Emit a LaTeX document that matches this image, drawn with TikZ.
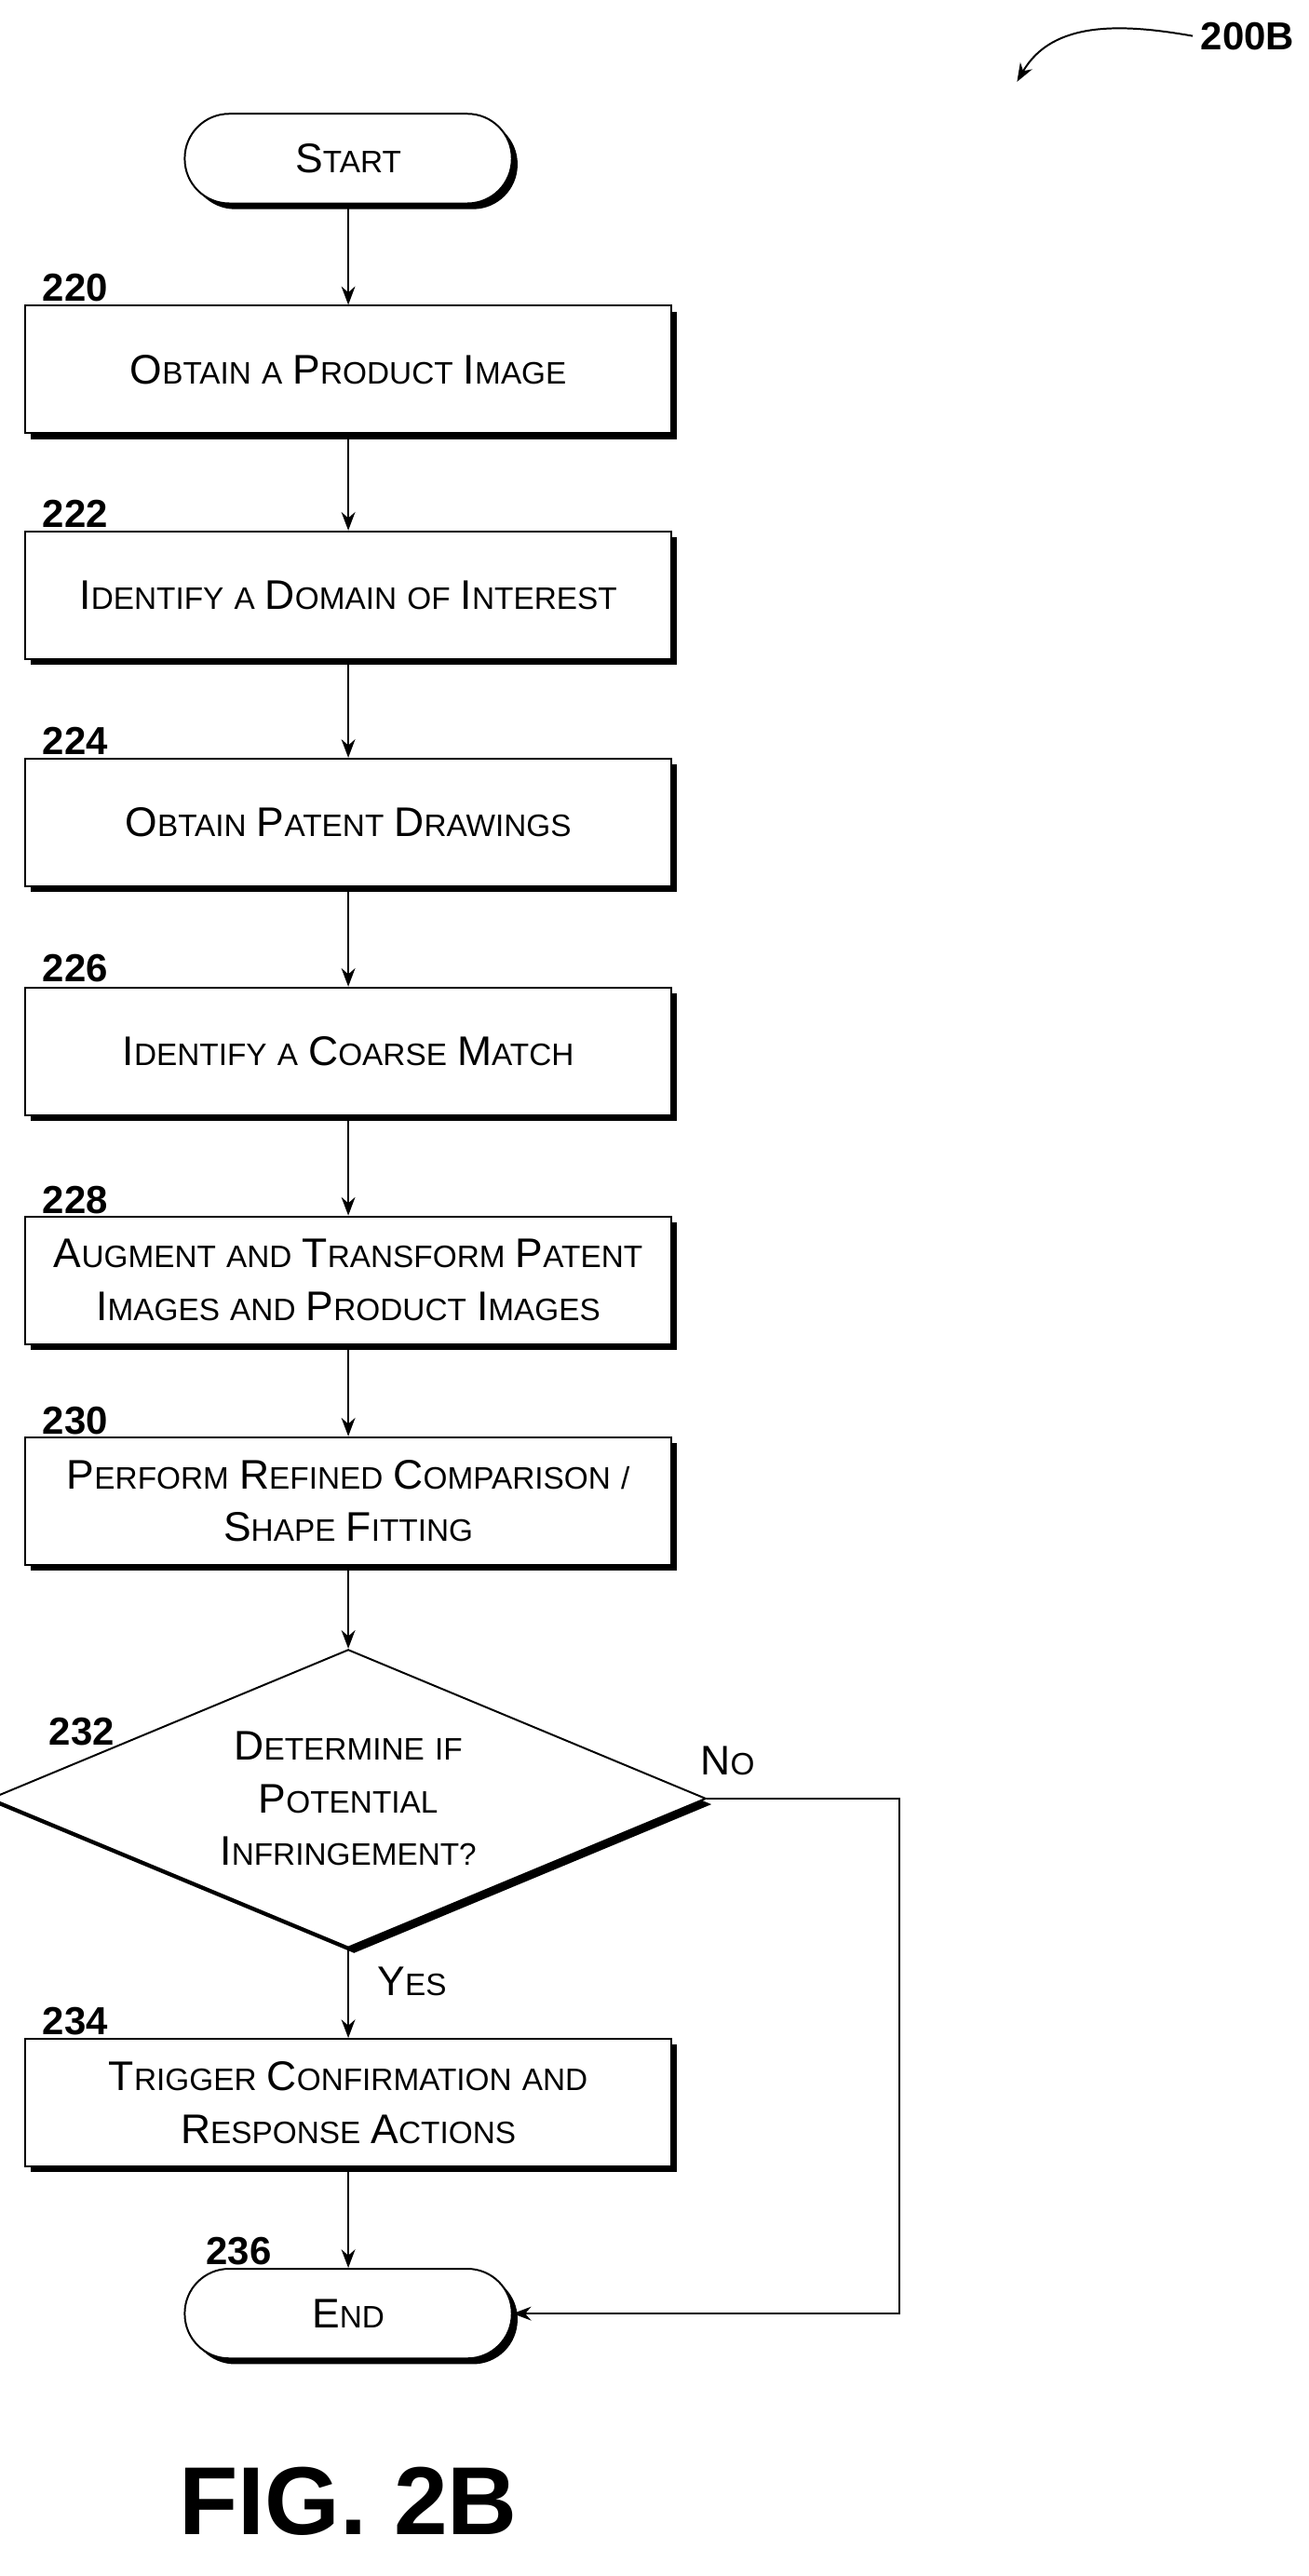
\documentclass[tikz,border=0pt]{standalone}
\usepackage{fontspec}
\setmainfont{Liberation Sans}
\usetikzlibrary{arrows.meta}
\usetikzlibrary{shadows}
\usetikzlibrary{shapes.geometric}
\newcommand{\Cp}[1]{{\fontsize{18}{21}\selectfont #1}}
\tikzset{
  stepbox/.style={draw,thick,rectangle,minimum width=9.875cm,minimum height=1.95cm,text width=9.5cm,inner xsep=0pt,align=center,fill=white,font=\fontsize{13.5}{23}\selectfont,drop shadow={shadow xshift=2.5pt,shadow yshift=-2.5pt,fill=black,opacity=1}},
  term/.style={draw,thick,rectangle,rounded corners=0.68cm,minimum width=5cm,minimum height=1.37cm,fill=white,font=\fontsize{13.5}{19}\selectfont,drop shadow={shadow xshift=2.5pt,shadow yshift=-2.5pt,fill=black,opacity=1}},
  decide/.style={draw,thick,diamond,aspect=2.4,minimum width=10.1cm,minimum height=4.2cm,text width=6cm,inner sep=0pt,align=center,fill=white,font=\fontsize{13.5}{23}\selectfont,drop shadow={shadow xshift=2.5pt,shadow yshift=-2.5pt,fill=black,opacity=1}},
  num/.style={font=\bfseries\fontsize{17}{20}\selectfont},
  flow/.style={->,thick,>={Stealth[length=8pt,width=6pt]}}
}
\begin{document}
\begin{tikzpicture}[x=0.025cm,y=-0.025cm]
\useasboundingbox (0,0) rectangle (800,1575.5);

\node[term] (start) at (213,97) {\Cp{S}TART};
\node[stepbox] (s220) at (213,226) {\Cp{O}BTAIN A \Cp{P}RODUCT \Cp{I}MAGE};
\node[stepbox] (s222) at (213,364) {\Cp{I}DENTIFY A \Cp{D}OMAIN OF \Cp{I}NTEREST};
\node[stepbox] (s224) at (213,503) {\Cp{O}BTAIN \Cp{P}ATENT \Cp{D}RAWINGS};
\node[stepbox] (s226) at (213,643) {\Cp{I}DENTIFY A \Cp{C}OARSE \Cp{M}ATCH};
\node[stepbox] (s228) at (213,783) {\Cp{A}UGMENT AND \Cp{T}RANSFORM \Cp{P}ATENT\\\Cp{I}MAGES AND \Cp{P}RODUCT \Cp{I}MAGES};
\node[stepbox] (s230) at (213,918) {\Cp{P}ERFORM \Cp{R}EFINED \Cp{C}OMPARISON /\\\Cp{S}HAPE \Cp{F}ITTING};
\node[decide] (s232) at (213,1100) {\Cp{D}ETERMINE IF\\\Cp{P}OTENTIAL \Cp{I}NFRINGEMENT?};
\node[stepbox] (s234) at (213,1286) {\Cp{T}RIGGER \Cp{C}ONFIRMATION AND\\\Cp{R}ESPONSE \Cp{A}CTIONS};
\node[term] (end) at (213,1415) {\Cp{E}ND};

\node[num] (n220) at (46,176) {220};
\node[num] (n222) at (46,314) {222};
\node[num] (n224) at (46,453) {224};
\node[num] (n226) at (46,592) {226};
\node[num] (n228) at (46,734) {228};
\node[num] (n230) at (46,869) {230};
\node[num] (n232) at (50,1059) {232};
\node[num] (n234) at (46,1236) {234};
\node[num] (n236) at (146,1377) {236};

\node[font=\fontsize{13.5}{19}\selectfont] (no) at (445,1077) {\Cp{N}O};
\node[font=\fontsize{13.5}{19}\selectfont] (yes) at (252,1212) {\Cp{Y}ES};
\coordinate (c1) at (550,1100);
\coordinate (c2) at (550,1415);

\draw[flow] (start) -- (s220);
\draw[flow] (s220) -- (s222);
\draw[flow] (s222) -- (s224);
\draw[flow] (s224) -- (s226);
\draw[flow] (s226) -- (s228);
\draw[flow] (s228) -- (s230);
\draw[flow] (s230) -- (s232);
\draw[flow] (s232) -- (s234);
\draw[flow] (s234) -- (end);
\draw[flow] (s232.east) -- (c1) -- (c2) -- (end.east);

\node[num] (fig) at (763,22) {200B};
\coordinate (f1) at (622,50);
\draw[flow] (fig.west) to[out=170,in=60] (f1);

\node[font=\bfseries\fontsize{42}{46}\selectfont] (title) at (213,1530) {FIG. 2B};
\end{tikzpicture}
\end{document}
